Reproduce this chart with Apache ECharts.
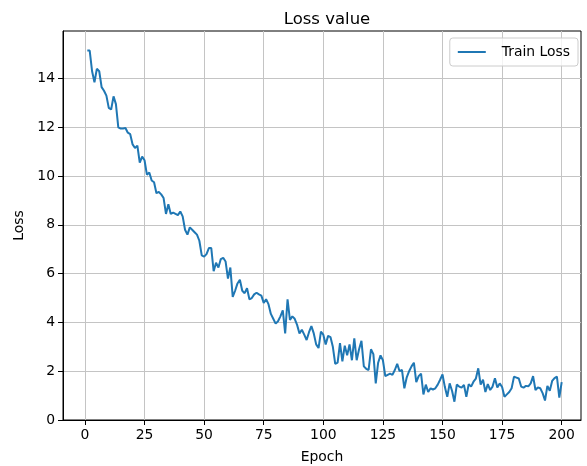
<!DOCTYPE html>
<html>
<head>
<meta charset="utf-8">
<script src="https://cdn.jsdelivr.net/npm/echarts@6/dist/echarts.min.js"></script>
<style>
html,body{margin:0;padding:0;background:#fff;}
#chart{width:587px;height:466px;}
</style>
</head>
<body>
<div id="chart"></div>
<script>
const epochs = [];
for (let i = 1; i <= 200; i++) epochs.push(i);
const trainLoss = [
  15.15, 15.15, 14.3, 13.85, 14.4, 14.3, 13.65, 13.5, 13.3, 12.8,
  12.73, 13.27, 12.95, 12.0, 11.95, 11.95, 11.97, 11.78, 11.72, 11.3,
  11.15, 11.25, 10.55, 10.8, 10.65, 10.06, 10.15, 9.82, 9.75, 9.3,
  9.35, 9.25, 9.1, 8.45, 8.85, 8.45, 8.5, 8.45, 8.4, 8.55,
  8.35, 7.8, 7.6, 7.9, 7.8, 7.7, 7.6, 7.35, 6.75, 6.7,
  6.8, 7.05, 7.05, 6.1, 6.45, 6.25, 6.6, 6.65, 6.5, 5.8,
  6.25, 5.05, 5.3, 5.6, 5.75, 5.3, 5.2, 5.4, 4.95, 5.0,
  5.15, 5.22, 5.15, 5.1, 4.8, 4.95, 4.75, 4.35, 4.15, 3.95,
  4.05, 4.25, 4.5, 3.55, 4.95, 4.1, 4.25, 4.15, 3.9, 3.55,
  3.7, 3.5, 3.28, 3.6, 3.85, 3.55, 3.1, 2.95, 3.62, 3.5,
  3.1, 3.45, 3.4, 3.0, 2.3, 2.35, 3.15, 2.4, 3.05, 2.65,
  3.1, 2.45, 3.35, 2.45, 2.9, 3.25, 2.2, 2.1, 2.05, 2.9,
  2.7, 1.5, 2.35, 2.65, 2.45, 1.8, 1.85, 1.9, 1.85, 2.05,
  2.3, 2.0, 2.05, 1.3, 1.75, 2.0, 2.2, 2.35, 1.55, 1.8,
  1.9, 1.05, 1.45, 1.15, 1.3, 1.25, 1.3, 1.45, 1.65, 1.87,
  1.35, 0.95, 1.5, 1.2, 0.75, 1.45, 1.37, 1.33, 1.44, 0.95,
  1.47, 1.37, 1.57, 1.7, 2.12, 1.45, 1.65, 1.15, 1.47, 1.23,
  1.37, 1.71, 1.33, 1.5, 1.35, 0.95, 1.05, 1.15, 1.3, 1.78,
  1.74, 1.7, 1.37, 1.33, 1.4, 1.38, 1.5, 1.8, 1.23, 1.33,
  1.3, 1.1, 0.8, 1.4, 1.2, 1.6, 1.72, 1.78, 0.92, 1.55
];
const xTicks = [0, 25, 50, 75, 100, 125, 150, 175, 200];
const yTicks = [0, 2, 4, 6, 8, 10, 12, 14];

const font = 'DejaVu Sans';
const chart = echarts.init(document.getElementById('chart'), null, {renderer: 'canvas'});
chart.setOption({
  animation: false,
  backgroundColor: '#ffffff',
  title: {
    text: 'Loss value',
    left: 322, top: 6, textAlign: 'center',
    textStyle: {fontFamily: font, fontSize: 16.5, fontWeight: 'normal', color: '#000'}
  },
  legend: {
    data: ['Train Loss'],
    right: 9, top: 38,
    orient: 'vertical',
    padding: [7, 8, 7, 8],
    backgroundColor: 'rgba(255,255,255,0.8)',
    borderColor: '#cccccc', borderWidth: 1, borderRadius: 3,
    icon: 'rect', itemWidth: 28, itemHeight: 2,
    textStyle: {fontFamily: font, fontSize: 13.9, color: '#000', padding: [0, 0, 0, 11]}
  },
  grid: {
    left: 63, right: 6, top: 31, bottom: 46,
    outerBoundsMode: 'none',
    containLabel: false,
    show: true, borderColor: '#000', borderWidth: 1, backgroundColor: 'transparent'
  },
  xAxis: {
    type: 'value', min: -9.2, max: 208.1,
    name: 'Epoch', nameLocation: 'middle', nameGap: 30,
    nameTextStyle: {fontFamily: font, fontSize: 13.9, color: '#000'},
    axisLine: {show: true, onZero: false, lineStyle: {color: '#000', width: 1}},
    axisTick: {show: true, inside: false, length: 5, lineStyle: {color: '#000'}, customValues: xTicks},
    axisLabel: {fontFamily: font, fontSize: 13.9, color: '#000', margin: 8, customValues: xTicks},
    splitLine: {show: true, lineStyle: {color: '#c4c4c4', width: 1}}
  },
  yAxis: {
    type: 'value', min: 0, max: 15.95,
    name: 'Loss', nameLocation: 'middle', nameGap: 36,
    nameTextStyle: {fontFamily: font, fontSize: 13.9, color: '#000'},
    axisLine: {show: true, onZero: false, lineStyle: {color: '#000', width: 1}},
    axisTick: {show: true, inside: false, length: 5, lineStyle: {color: '#000'}, customValues: yTicks},
    axisLabel: {fontFamily: font, fontSize: 13.9, color: '#000', margin: 8, customValues: yTicks},
    splitLine: {show: true, lineStyle: {color: '#c4c4c4', width: 1}}
  },
  series: [{
    name: 'Train Loss',
    type: 'line',
    data: epochs.map((e, i) => [e, trainLoss[i]]),
    symbol: 'none',
    lineStyle: {color: '#1f77b4', width: 2},
    itemStyle: {color: '#1f77b4'}
  }]
});
</script>
</body>
</html>
